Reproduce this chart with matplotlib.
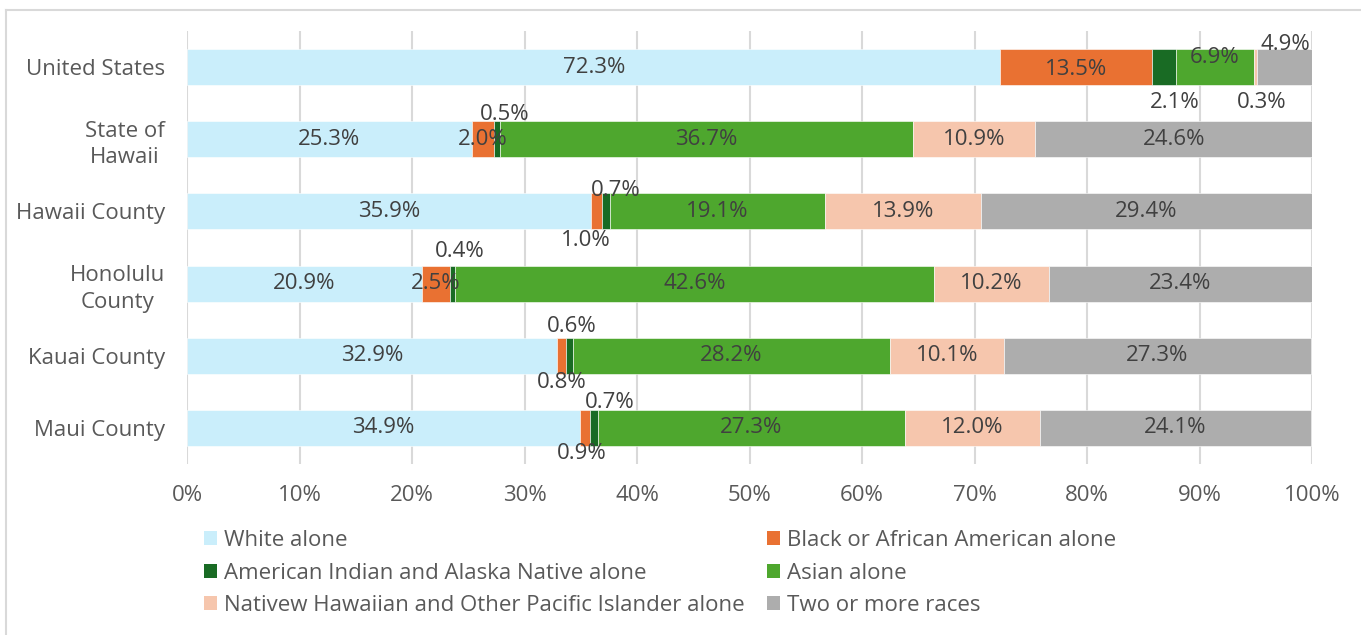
import matplotlib
matplotlib.use("Agg")
import matplotlib.pyplot as plt
from matplotlib.patches import Patch
from matplotlib.lines import Line2D

plt.rcParams['font.family'] = ['Open Sans', 'DejaVu Sans']

# ---------------- data ----------------
categories = ["United States", "State of\nHawaii", "Hawaii County",
              "Honolulu\nCounty", "Kauai County", "Maui County"]
series_names = ["White alone",
                "Black or African American alone",
                "American Indian and Alaska Native alone",
                "Asian alone",
                "Nativew Hawaiian and Other Pacific Islander alone",
                "Two or more races"]
white = [72.3, 25.3, 35.9, 20.9, 32.9, 34.9]
black = [13.5, 2.0, 1.0, 2.5, 0.8, 0.9]
aian = [2.1, 0.5, 0.7, 0.4, 0.6, 0.7]
asian = [6.9, 36.7, 19.1, 42.6, 28.2, 27.3]
nhpi = [0.3, 10.9, 13.9, 10.2, 10.1, 12.0]
two_more = [4.9, 24.6, 29.4, 23.4, 27.3, 24.1]
x_ticks = [0, 10, 20, 30, 40, 50, 60, 70, 80, 90, 100]
x_tick_labels = [f"{t}%" for t in x_ticks]

series_values = [white, black, aian, asian, nhpi, two_more]

# ---------------- style ----------------
colors = ["#CAEEFB", "#E97132", "#196B24", "#4EA72E", "#F6C6AD", "#ADADAD"]
label_color = "#404040"
axis_text_color = "#595959"
grid_color = "#D9D9D9"
fs = 16

# label offsets (pixels) for small segments: (row, series) -> (dx, dy)
label_offsets = {
    (0, 1): (0, -2), (0, 2): (11, -35), (0, 3): (0, 10), (0, 4): (7, -35),
    (0, 5): (1, 23),
    (1, 2): (8, 25),
    (2, 1): (-11, -29), (2, 2): (10, 21),
    (3, 2): (7, 32),
    (4, 1): (0, -27), (4, 2): (2, 29),
    (5, 1): (-3, -26), (5, 2): (16, 25),
}

W, H = 1361, 635
fig = plt.figure(figsize=(W / 100, H / 100), dpi=100)
fig.patch.set_facecolor("white")

# outer chart border (only left/top edges visible in the crop)
bx, by = 5.5 / W, 1 - 9.5 / H
fig.add_artist(Line2D([bx, bx], [-0.1, by], transform=fig.transFigure,
                      color=grid_color, linewidth=1.5))
fig.add_artist(Line2D([bx, 1.1], [by, by], transform=fig.transFigure,
                      color=grid_color, linewidth=1.5))

ax = fig.add_axes([187 / W, 1 - 464 / H, 1125 / W, 433 / H])

ypos = list(range(len(categories)))
lefts = [0.0] * len(categories)
for si, (name, vals, col) in enumerate(zip(series_names, series_values, colors)):
    bars = ax.barh(ypos, vals, left=lefts, height=0.5, color=col,
                   edgecolor="white", linewidth=0.4, label=name, zorder=3)
    for ri, (b, v) in enumerate(zip(bars, vals)):
        cx = b.get_x() + b.get_width() / 2
        cy = b.get_y() + b.get_height() / 2
        dx, dy = label_offsets.get((ri, si), (0, 0))
        ax.annotate(f"{v:.1f}%", (cx, cy), xytext=(dx, dy),
                    textcoords="offset pixels", ha="center", va="center",
                    fontsize=fs, color=label_color, zorder=5)
    lefts = [l + v for l, v in zip(lefts, vals)]

ax.set_xlim(0, 100)
ax.set_ylim(len(categories) - 0.5, -0.5)
ax.set_xticks(x_ticks)
ax.set_xticklabels(x_tick_labels)
ax.set_yticks(ypos)
ax.set_yticklabels(categories, multialignment="center", linespacing=1.35)
ax.tick_params(axis="x", length=0, pad=15, labelsize=fs, labelcolor=axis_text_color)
ax.tick_params(axis="y", length=0, pad=16, labelsize=fs, labelcolor=axis_text_color)
ax.xaxis.grid(True, color=grid_color, linewidth=1.5, zorder=0)
ax.set_axisbelow(True)
for s in ax.spines.values():
    s.set_visible(False)

# legend: rows read White/Black, AIAN/Asian, NHPI/Two
order = [0, 2, 4, 1, 3, 5]
leg_handles = [Patch(facecolor=colors[i], edgecolor="none") for i in order]
leg_labels = [series_names[i] for i in order]
fig.legend(leg_handles, leg_labels, ncol=2, loc="upper left",
           bbox_to_anchor=(204 / W, 1 - 530 / H), frameon=False,
           fontsize=fs, labelcolor=axis_text_color, borderpad=0,
           handlelength=0.6, handleheight=0.6, handletextpad=0.3,
           columnspacing=1.0, labelspacing=0.52, borderaxespad=0)

fig.savefig("out.png", dpi=100)
